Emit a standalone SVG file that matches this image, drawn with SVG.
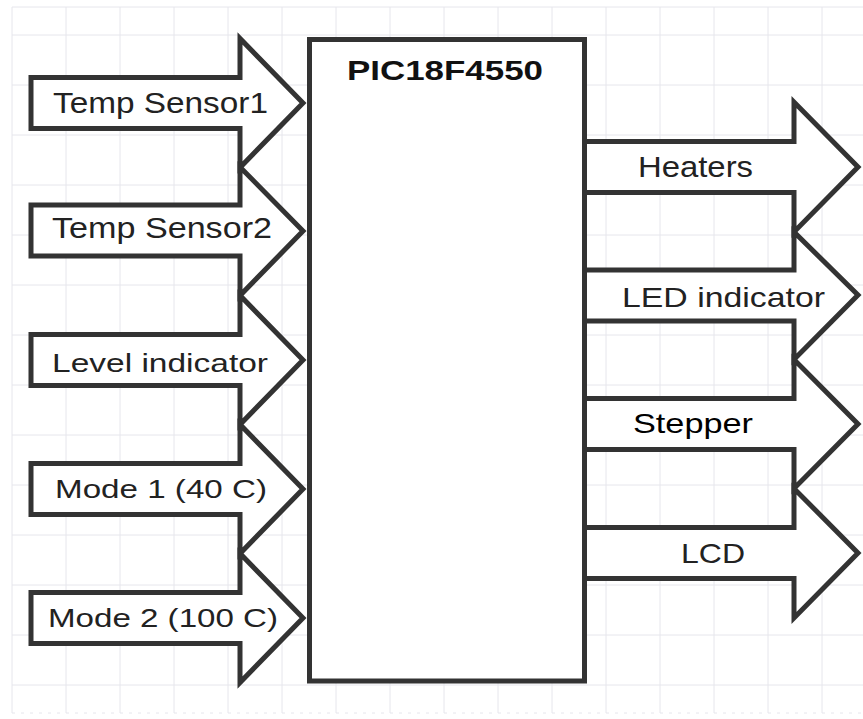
<svg xmlns="http://www.w3.org/2000/svg" width="863" height="719" viewBox="0 0 863 719">
<style>
.grid line{stroke:#e6e6ec;stroke-width:1}
.arrow{fill:#ffffff;stroke:#333333;stroke-width:5;stroke-linejoin:miter;stroke-miterlimit:10}
.box{fill:#ffffff;stroke:#333333;stroke-width:5}
.lbl{font-family:"Liberation Sans",Arial,sans-serif;fill:#222222}
.title{font-family:"Liberation Sans",Arial,sans-serif;font-weight:bold;fill:#111111}
</style>
<rect width="863" height="719" fill="#ffffff"/>
<g class="grid">
<line x1="12" y1="7" x2="12" y2="713"/><line x1="66" y1="7" x2="66" y2="713"/><line x1="120" y1="7" x2="120" y2="713"/><line x1="174" y1="7" x2="174" y2="713"/><line x1="228" y1="7" x2="228" y2="713"/><line x1="282" y1="7" x2="282" y2="713"/><line x1="336" y1="7" x2="336" y2="713"/><line x1="390" y1="7" x2="390" y2="713"/><line x1="444" y1="7" x2="444" y2="713"/><line x1="498" y1="7" x2="498" y2="713"/><line x1="552" y1="7" x2="552" y2="713"/><line x1="606" y1="7" x2="606" y2="713"/><line x1="660" y1="7" x2="660" y2="713"/><line x1="714" y1="7" x2="714" y2="713"/><line x1="768" y1="7" x2="768" y2="713"/><line x1="822" y1="7" x2="822" y2="713"/>
<line x1="12" y1="7" x2="863" y2="7"/><line x1="12" y1="35" x2="863" y2="35"/><line x1="12" y1="85" x2="863" y2="85"/><line x1="12" y1="135" x2="863" y2="135"/><line x1="12" y1="185" x2="863" y2="185"/><line x1="12" y1="235" x2="863" y2="235"/><line x1="12" y1="285" x2="863" y2="285"/><line x1="12" y1="335" x2="863" y2="335"/><line x1="12" y1="385" x2="863" y2="385"/><line x1="12" y1="435" x2="863" y2="435"/><line x1="12" y1="485" x2="863" y2="485"/><line x1="12" y1="535" x2="863" y2="535"/><line x1="12" y1="585" x2="863" y2="585"/><line x1="12" y1="635" x2="863" y2="635"/><line x1="12" y1="685" x2="863" y2="685"/>
<line x1="12" y1="713" x2="863" y2="713" stroke-dasharray="3 6"/>
</g>
<g id="connectors">
<polygon id="in-temp1" class="arrow" points="31,77.5 240,77.5 240,38.5 303,103 240,167.5 240,128.5 31,128.5"/>
<polygon id="in-temp2" class="arrow" points="31,205 240,205 240,167 303,231 240,295.5 240,256 31,256"/>
<polygon id="in-level" class="arrow" points="31,334.5 240,334.5 240,295.5 303,360 240,424.5 240,385.5 31,385.5"/>
<polygon id="in-mode1" class="arrow" points="31,463.5 240,463.5 240,424.5 303,489 240,553.5 240,514.5 31,514.5"/>
<polygon id="in-mode2" class="arrow" points="31,592.5 240,592.5 240,553.5 303,618 240,682.5 240,643.5 31,643.5"/>
<polygon id="out-heaters" class="arrow" points="584.5,141.5 794,141.5 794,102 858,167 794,232 794,192.5 584.5,192.5"/>
<polygon id="out-led" class="arrow" points="584.5,270 794,270 794,232 858,295 794,359.5 794,321 584.5,321"/>
<polygon id="out-stepper" class="arrow" points="584.5,398.5 794,398.5 794,359.5 858,424 794,488.5 794,449.5 584.5,449.5"/>
<polygon id="out-lcd" class="arrow" points="584.5,527.5 794,527.5 794,488.5 858,553 794,618 794,578.5 584.5,578.5"/>
</g>
<g id="pic">
<rect class="box" x="309.5" y="39.5" width="275" height="641.5"/>
<text class="title" x="347" y="80" font-size="28" textLength="196" lengthAdjust="spacingAndGlyphs">PIC18F4550</text>
</g>
<g id="temp-sensor1"><text class="lbl" x="53" y="113" font-size="29" textLength="215" lengthAdjust="spacingAndGlyphs">Temp Sensor1</text></g>
<g id="temp-sensor2"><text class="lbl" x="52" y="238" font-size="29" textLength="220" lengthAdjust="spacingAndGlyphs">Temp Sensor2</text></g>
<g id="level-indicator"><text class="lbl" x="52" y="372" font-size="26" textLength="216" lengthAdjust="spacingAndGlyphs">Level indicator</text></g>
<g id="mode1"><text class="lbl" x="55" y="498" font-size="26" textLength="212" lengthAdjust="spacingAndGlyphs">Mode 1 (40 C)</text></g>
<g id="mode2"><text class="lbl" x="48" y="627" font-size="26" textLength="230" lengthAdjust="spacingAndGlyphs">Mode 2 (100 C)</text></g>
<g id="heaters"><text class="lbl" x="638" y="177" font-size="29" textLength="115" lengthAdjust="spacingAndGlyphs">Heaters</text></g>
<g id="led-indicator"><text class="lbl" x="622" y="307" font-size="28" textLength="203" lengthAdjust="spacingAndGlyphs">LED indicator</text></g>
<g id="stepper"><text class="lbl" x="633" y="433" font-size="28" textLength="120" lengthAdjust="spacingAndGlyphs" style="fill:#000000">Stepper</text></g>
<g id="lcd"><text class="lbl" x="681" y="563" font-size="28" textLength="64" lengthAdjust="spacingAndGlyphs">LCD</text></g>
</svg>
